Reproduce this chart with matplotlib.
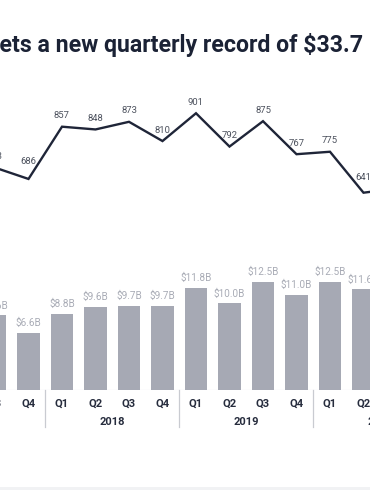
import matplotlib
matplotlib.use("Agg")
import matplotlib.pyplot as plt
from matplotlib import transforms
from matplotlib.patches import Rectangle

plt.rcParams['font.family'] = ['Roboto', 'DejaVu Sans']

# ---- data ----
quarters = ["Q3", "Q4", "Q1", "Q2", "Q3", "Q4", "Q1", "Q2", "Q3", "Q4", "Q1", "Q2"]
years = ["2018", "2019", "2020"]
funding_b = [8.6, 6.6, 8.8, 9.6, 9.7, 9.7, 11.8, 10.0, 12.5, 11.0, 12.5, 11.6]
deals = [723, 686, 857, 848, 873, 810, 901, 792, 875, 767, 775, 641, 655]
title_head = "Funding s"
title_tail = "ets a new quarterly record of $33.7"
title = title_head + title_tail

# ---- style ----
W, H, DPI = 370, 490, 100
BAR_C = "#a6a9b4"
LINE_C = "#1f2538"
DARK = "#262c3d"
BAR_LBL_C = "#a9acb6"
LINE_LBL_C = "#4d525e"
SEP_C = "#c9cbd1"

fig = plt.figure(figsize=(W / DPI, H / DPI), dpi=DPI)
fig.patch.set_facecolor("white")

# axes geometry (pixels from top)
base_px, top_px = 390, 60
ax = fig.add_axes([0, (H - base_px) / H, 1, (base_px - top_px) / H])
ax.set_axis_off()
step_px, x0_px = 33.5, -5.0
ax.set_xlim((0 - x0_px) / step_px, (W - x0_px) / step_px)
ax.set_ylim(0, (base_px - top_px) / 8.68)

ax2 = ax.twinx()
ax2.set_axis_off()
ax2.set_xlim(ax.get_xlim())
ax2.set_ylim(-4.6, -4.6 + (base_px - top_px) / 0.3056)

xs = list(range(len(funding_b)))
ax.bar(xs, funding_b, width=0.67, color=BAR_C, zorder=2)

bar_off = transforms.offset_copy(ax.transData, fig=fig, x=0, y=4.5, units='dots')
for x, v in zip(xs, funding_b):
    ax.text(x, v, f"${v:.1f}B", transform=bar_off, ha='center', va='bottom',
            fontsize=7.2, color=BAR_LBL_C)

lx = list(range(len(deals)))
ax2.plot(lx, deals, color=LINE_C, lw=1.7, solid_joinstyle='miter', zorder=3)
extra = {1: 6, 11: 4}
for i, v in enumerate(deals[:len(quarters)]):
    off = transforms.offset_copy(ax2.transData, fig=fig, x=0, y=11 + extra.get(i, 0), units='dots')
    ax2.text(i, v, f"{v}", transform=off, ha='center', va='center',
             fontsize=6.8, color=LINE_LBL_C)

# baseline
ax.axhline(0, color="#d4d6db", lw=0.8, zorder=1)

# quarter labels, year labels and separators
xt = ax.get_xaxis_transform()
def yfrac(px):
    return (base_px - px) / (base_px - top_px)

for i, q in enumerate(quarters):
    ax.text(i, yfrac(403.5), q, transform=xt, ha='center', va='center',
            fontsize=8, fontweight='bold', color=DARK, clip_on=False)
for k, y in enumerate(years):
    ax.text(3.5 + 4 * k, yfrac(421.5), y, transform=xt, ha='center', va='center',
            fontsize=8, fontweight='bold', color=DARK, clip_on=False)
for s in [1.5, 5.5, 9.5]:
    ax.plot([s, s], [yfrac(390), yfrac(427)], transform=xt, color=SEP_C, lw=0.9,
            clip_on=False)

# title: size fitted so the visible part spans the reference width,
# positioned so that "ets" starts at the left edge
renderer = fig.canvas.get_renderer()
tmp = fig.text(0, 0, title_tail, fontsize=10, fontweight='bold')
tail_w = tmp.get_window_extent(renderer).width
tmp.remove()
fs = 10 * 364 / tail_w
tmp = fig.text(0, 0, title_head, fontsize=fs, fontweight='bold')
head_w = tmp.get_window_extent(renderer).width
tmp.remove()
fig.text((-head_w - 1.0) / W, 1 - 52 / H, title, ha='left', va='baseline',
         fontsize=fs, fontweight='bold', color="#1b2235")

# faint band along the bottom edge
fig.patches.append(Rectangle((0, 0), 1, 3 / H, transform=fig.transFigure,
                             facecolor="#f1f2f4", edgecolor="none"))

fig.savefig("out.png", dpi=DPI, facecolor="white")
